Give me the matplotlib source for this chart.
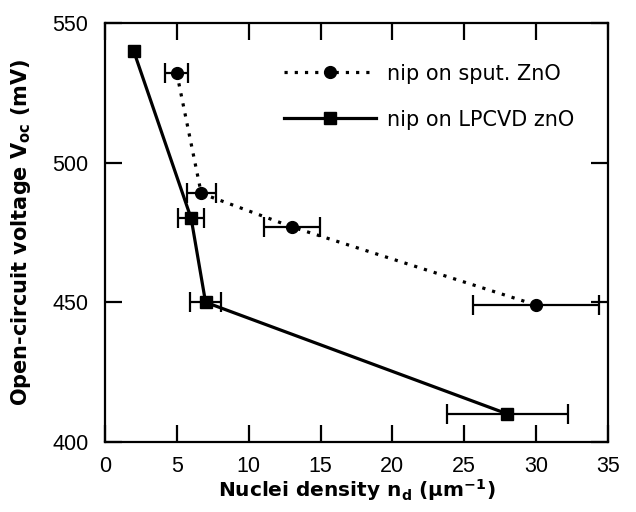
import matplotlib
matplotlib.use("Agg")
import matplotlib.pyplot as plt

# Data
sput_x = [5.0, 6.7, 13.0, 30.0]
sput_y = [532, 489, 477, 449]
sput_xerr = [0.8, 1.0, 1.95, 4.4]

lpcvd_x = [2.0, 6.0, 7.0, 28.0]
lpcvd_y = [540, 480, 450, 410]
lpcvd_xerr = [0.0, 0.9, 1.07, 4.2]

xticks = [0, 5, 10, 15, 20, 25, 30, 35]
yticks = [400, 450, 500, 550]

plt.rcParams['font.family'] = ['Liberation Sans', 'DejaVu Sans']
plt.rcParams['mathtext.fontset'] = 'dejavusans'

fig = plt.figure(figsize=(6.36, 5.12), dpi=100)
ax = fig.add_axes([0.165, 0.137, 0.791, 0.818])

eb_kw = dict(fmt='none', ecolor='black', capsize=7.5, elinewidth=1.6, capthick=1.6)
for xs, ys, es in [(sput_x, sput_y, sput_xerr), (lpcvd_x, lpcvd_y, lpcvd_xerr)]:
    sel = [i for i, e in enumerate(es) if e > 0]
    ax.errorbar([xs[i] for i in sel], [ys[i] for i in sel],
                xerr=[es[i] for i in sel], **eb_kw)

ax.plot(sput_x, sput_y, color='black', linestyle=(0, (1, 2.2)), linewidth=2.3,
        marker='o', markersize=8.5, label='nip on sput. ZnO')
ax.plot(lpcvd_x, lpcvd_y, color='black', linestyle='-', linewidth=2.3,
        marker='s', markersize=8.5, label='nip on LPCVD znO')

ax.set_xlim(0, 35)
ax.set_ylim(400, 550)
ax.set_xticks(xticks)
ax.set_yticks(yticks)
ax.tick_params(direction='in', length=12, width=1.6, top=True, right=True,
               labelsize=15.5)
ax.tick_params(axis='x', pad=10)
ax.tick_params(axis='y', pad=12)
for s in ax.spines.values():
    s.set_linewidth(1.6)

ax.set_xlabel(r'Nuclei density n$_{\mathbf{d}}$ ($\mathbf{\mu}$m$^{\mathbf{-1}}$)',
              fontsize=14.5, fontweight='bold', family='DejaVu Sans', labelpad=0)
ax.set_ylabel(r'Open-circuit voltage V$_{\mathbf{oc}}$ (mV)', fontsize=15,
              fontweight='bold', family='DejaVu Sans', labelpad=14)

leg = ax.legend(loc='upper left', bbox_to_anchor=(0.356, 0.903), frameon=False,
                prop={'family': 'DejaVu Sans', 'size': 15}, handlelength=4.4,
                handletextpad=0.55, labelspacing=1.25, borderaxespad=0, borderpad=0)

fig.savefig('out.png', dpi=100)
